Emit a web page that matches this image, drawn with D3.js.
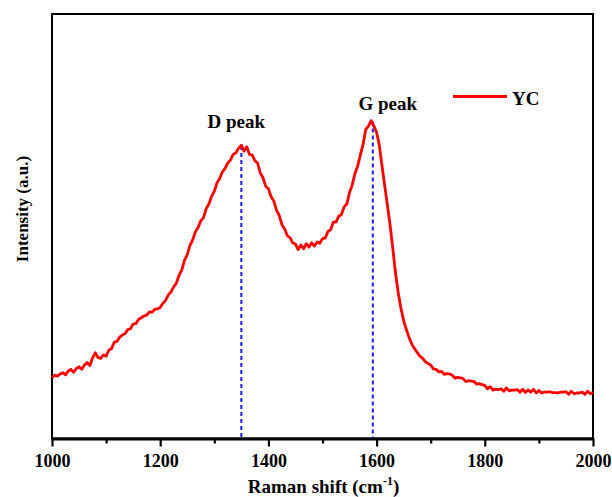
<!DOCTYPE html>
<html>
<head>
<meta charset="utf-8">
<script src="https://cdn.jsdelivr.net/npm/d3@7"></script>
<style>
  html, body { margin: 0; padding: 0; background: #fff; }
  svg { display: block; }
  text { font-family: "Liberation Serif", "Times New Roman", serif; font-weight: bold; fill: #000; }
</style>
</head>
<body>
<svg id="chart" width="612" height="497"></svg>
<script>
// ---------- data ----------
const ramanShift = [
1000,1005,1010,1015,1020,1025,1030,1035,1040,1045,1050,1055,1060,1065,1070,1075,1080,1085,1090,1095,
1100,1105,1110,1115,1120,1125,1130,1135,1140,1145,1150,1155,1160,1165,1170,1175,1180,1185,1190,1195,
1200,1205,1210,1215,1220,1225,1230,1235,1240,1245,1250,1255,1260,1265,1270,1275,1280,1285,1290,1295,
1300,1305,1310,1315,1320,1325,1330,1335,1340,1345,1350,1355,1360,1365,1370,1375,1380,1385,1390,1395,
1400,1405,1410,1415,1420,1425,1430,1435,1440,1445,1450,1455,1460,1465,1470,1475,1480,1485,1490,1495,
1500,1505,1510,1515,1520,1525,1530,1535,1540,1545,1550,1555,1560,1565,1570,1575,1580,1585,1590,1595,
1600,1605,1610,1615,1620,1625,1630,1635,1640,1645,1650,1655,1660,1665,1670,1675,1680,1685,1690,1695,
1700,1705,1710,1715,1720,1725,1730,1735,1740,1745,1750,1755,1760,1765,1770,1775,1780,1785,1790,1795,
1800,1805,1810,1815,1820,1825,1830,1835,1840,1845,1850,1855,1860,1865,1870,1875,1880,1885,1890,1895,
1900,1905,1910,1915,1920,1925,1930,1935,1940,1945,1950,1955,1960,1965,1970,1975,1980,1985,1990,1995,
2000
];
const intensityYC = [
140,146,144,149,152,147,156,160,153,162,166,160,170,176,169,187,199,188,186,194,
191,205,209,224,226,236,241,244,254,256,267,268,278,282,286,288,296,295,302,303,
306,316,323,336,343,355,364,383,395,418,431,453,466,485,495,511,518,540,551,569,
581,601,611,627,635,648,655,668,672,683,690,676,686,668,667,653,648,624,613,593,
587,568,558,536,524,502,492,476,471,459,456,443,454,445,457,449,459,451,461,458,
469,470,486,490,508,508,522,526,544,551,578,596,623,640,667,692,727,735,748,735,
720,690,641,594,548,500,445,387,341,304,275,254,235,220,209,200,191,186,178,174,
170,161,160,154,155,148,150,149,146,139,141,140,138,131,133,132,131,125,126,124,
122,114,119,111,113,112,114,108,116,109,111,111,112,106,113,105,111,106,113,104,
110,104,106,106,107,105,105,104,106,106,107,101,108,102,104,104,106,101,108,102,
106
];
const seriesName = "YC";
const peakLabels = ["D peak", "G peak"];
const peakShift = [1350, 1593];
const peakIntensity = [688, 746];
const xTicks = [1000, 1200, 1400, 1600, 1800, 2000];
const xMinorTicks = [1100, 1300, 1500, 1700, 1900];

// ---------- layout ----------
const svg = d3.select("#chart");
const mLeft = 52, mRight = 593, mTop = 14, mBottom = 437, axisY = 438.5;

const x = d3.scaleLinear().domain([1000, 2000]).range([mLeft, mRight]);
const y = d3.scaleLinear().domain([0, 1000]).range([mBottom, mTop]);

// frame
svg.append("rect")
  .attr("x", mLeft).attr("y", mTop)
  .attr("width", mRight - mLeft).attr("height", axisY - mTop)
  .attr("fill", "none").attr("stroke", "#000").attr("stroke-width", 2);

// x axis (major)
const xAxis = d3.axisBottom(x).tickValues(xTicks).tickSize(8).tickSizeOuter(0).tickPadding(8)
  .tickFormat(d3.format("d"));
const gx = svg.append("g").attr("transform", `translate(0,${axisY})`).call(xAxis);
gx.select(".domain").attr("stroke-width", 3);
gx.selectAll(".tick line").attr("stroke-width", 2.2);
gx.selectAll(".tick text")
  .style("font-family", '"Liberation Serif", "Times New Roman", serif')
  .style("font-weight", "bold").style("font-size", "18px").attr("fill", "#000");

// minor ticks
svg.append("g").attr("transform", `translate(0,${axisY})`)
  .call(d3.axisBottom(x).tickValues(xMinorTicks).tickSize(5).tickFormat(""))
  .call(g => g.select(".domain").remove())
  .selectAll(".tick line").attr("stroke-width", 2.2);

// axis titles
const xt = svg.append("text")
  .attr("x", (mLeft + mRight) / 2 + 1).attr("y", 493)
  .attr("text-anchor", "middle").style("font-size", "19px");
xt.append("tspan").text("Raman shift (cm");
xt.append("tspan").text("-1").attr("dy", -8).style("font-size", "12px");
xt.append("tspan").text(")").attr("dy", 8);

svg.append("text")
  .attr("transform", `translate(28,${209}) rotate(-90)`)
  .attr("text-anchor", "middle").style("font-size", "17px")
  .text("Intensity (a.u.)");

// peak dashed lines
svg.append("g").selectAll("line").data(peakShift).join("line")
  .attr("x1", d => x(d)).attr("x2", d => x(d))
  .attr("y1", (d, i) => y(peakIntensity[i])).attr("y2", axisY - 1)
  .attr("stroke", "#1a1aff").attr("stroke-width", 2)
  .attr("stroke-dasharray", "4,3");

// curve
const line = d3.line()
  .x((d, i) => x(ramanShift[i]))
  .y(d => y(d));
svg.append("path")
  .datum(intensityYC)
  .attr("d", line)
  .attr("fill", "none").attr("stroke", "#ff0000")
  .attr("stroke-width", 2.8).attr("stroke-linejoin", "round");

// peak labels
const labelDx = [-5, 15], labelDy = [-18, -11];
svg.append("g").selectAll("text").data(peakLabels).join("text")
  .attr("x", (d, i) => x(peakShift[i]) + labelDx[i])
  .attr("y", (d, i) => y(peakIntensity[i]) + labelDy[i])
  .attr("text-anchor", "middle").style("font-size", "19px")
  .text(d => d);

// legend
svg.append("line")
  .attr("x1", 453).attr("x2", 507).attr("y1", 96.5).attr("y2", 96.5)
  .attr("stroke", "#ff0000").attr("stroke-width", 3);
svg.append("text").attr("x", 512).attr("y", 105)
  .style("font-size", "19px").text(seriesName);
</script>
</body>
</html>
